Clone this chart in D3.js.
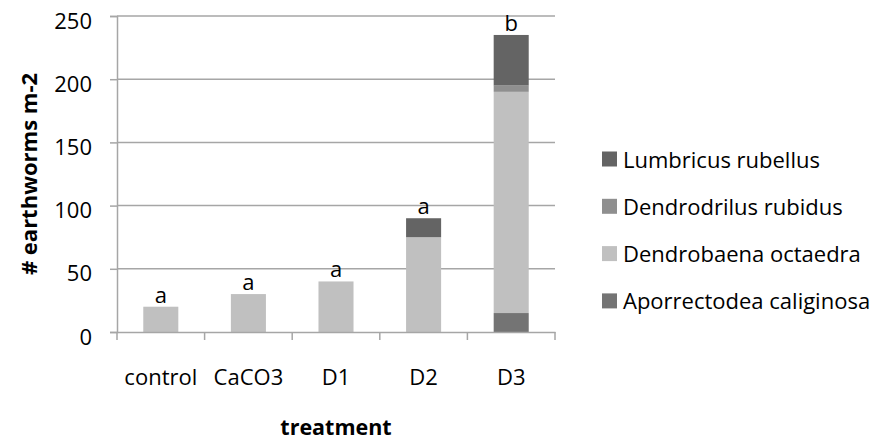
<!DOCTYPE html>
<html><head><meta charset="utf-8">
<script src="https://cdn.jsdelivr.net/npm/d3@7"></script>
<style>body{margin:0;background:#fff}svg text{font-family:"Open Sans",sans-serif;fill:#000}</style>
</head><body><svg id="c" width="885" height="443"></svg>
<script>
const categories = ["control","CaCO3","D1","D2","D3"];
const aporrectodea = [0,0,0,0,15];
const dendrobaena = [20,30,40,75,175];
const dendrodrilus = [0,0,0,0,5];
const lumbricus = [0,0,0,15,40];
const sigLetters = ["a","a","a","a","b"];
const seriesNames = ["Aporrectodea caliginosa","Dendrobaena octaedra","Dendrodrilus rubidus","Lumbricus rubellus"];
const seriesColors = ["#747474","#c0c0c0","#8f8f8f","#646464"];
const yTicks = [0,50,100,150,200,250];

const seriesVals = [aporrectodea, dendrobaena, dendrodrilus, lumbricus];
const rows = categories.map((c,i)=>{const r={cat:c}; seriesNames.forEach((s,j)=>r[s]=seriesVals[j][i]); return r;});
const stack = d3.stack().keys(seriesNames)(rows);

const svg = d3.select("#c");
const L=117,R=555,T=16,B=332;
const x = d3.scaleBand().domain(categories).range([L,R]).paddingInner(0.6).paddingOuter(0.3);
const xb = d3.scaleBand().domain(categories).range([L,R]);
const y = d3.scaleLinear().domain([0,250]).range([B,T]);
const fs = 22;
const grey = "#a6a6a6";

// gridlines
svg.append("g").selectAll("line").data(yTicks.filter(v=>v>0)).join("line")
  .attr("x1",L).attr("x2",R).attr("y1",d=>y(d)).attr("y2",d=>y(d))
  .attr("stroke",grey).attr("stroke-width",1.5);

// bars
svg.append("g").selectAll("g").data(stack).join("g")
  .attr("fill",(d,i)=>seriesColors[i])
  .selectAll("rect").data(d=>d).join("rect")
  .attr("x",d=>x(d.data.cat)).attr("width",x.bandwidth())
  .attr("y",d=>y(d[1])).attr("height",d=>y(d[0])-y(d[1]));

// y axis
const ya = svg.append("g").attr("transform",`translate(${L},0)`)
  .call(d3.axisLeft(y).tickValues(yTicks).tickSize(7).tickPadding(18));
ya.select(".domain").attr("stroke",grey).attr("stroke-width",1.5);
ya.selectAll(".tick line").attr("stroke",grey).attr("stroke-width",1.5);
ya.selectAll(".tick text").attr("font-size",fs).attr("font-family","Open Sans")
  .attr("fill","#000").attr("dy","12px");

// x axis
const xa = svg.append("g").attr("transform",`translate(0,${B})`)
  .call(d3.axisBottom(xb).tickSize(0).tickPadding(37));
xa.select(".domain").attr("stroke",grey).attr("stroke-width",1.5);
xa.selectAll(".tick text").attr("font-size",fs).attr("font-family","Open Sans").attr("fill","#000");
svg.append("g").selectAll("line").data(d3.range(categories.length+1)).join("line")
  .attr("x1",i=>L+i*xb.step()).attr("x2",i=>L+i*xb.step())
  .attr("y1",B).attr("y2",B+8).attr("stroke",grey).attr("stroke-width",1.5);

// letters
const totals = categories.map((c,i)=>seriesVals.reduce((s,a)=>s+a[i],0));
svg.append("g").selectAll("text").data(categories).join("text")
  .attr("x",d=>x(d)+x.bandwidth()/2).attr("y",(d,i)=>y(totals[i])-4)
  .attr("text-anchor","middle").attr("font-size",fs).text((d,i)=>sigLetters[i]);

// axis titles
svg.append("text").attr("x",(L+R)/2).attr("y",435).attr("text-anchor","middle")
  .attr("font-size",21.5).attr("font-weight","bold").text("treatment");
svg.append("text").attr("transform",`translate(37,174) rotate(-90)`)
  .attr("text-anchor","middle").attr("font-size",22).attr("font-weight","bold").text("# earthworms m-2");

// legend (top to bottom reversed order)
const legendOrder = seriesNames.slice().reverse();
const lg = svg.append("g").selectAll("g").data(legendOrder).join("g")
  .attr("transform",(d,i)=>`translate(602,${159+i*47.3})`);
lg.append("rect").attr("x",0).attr("y",-7.5).attr("width",15).attr("height",15)
  .attr("fill",d=>seriesColors[seriesNames.indexOf(d)]);
lg.append("text").attr("x",21).attr("y",8.5).attr("font-size",fs).text(d=>d);
</script></body></html>
